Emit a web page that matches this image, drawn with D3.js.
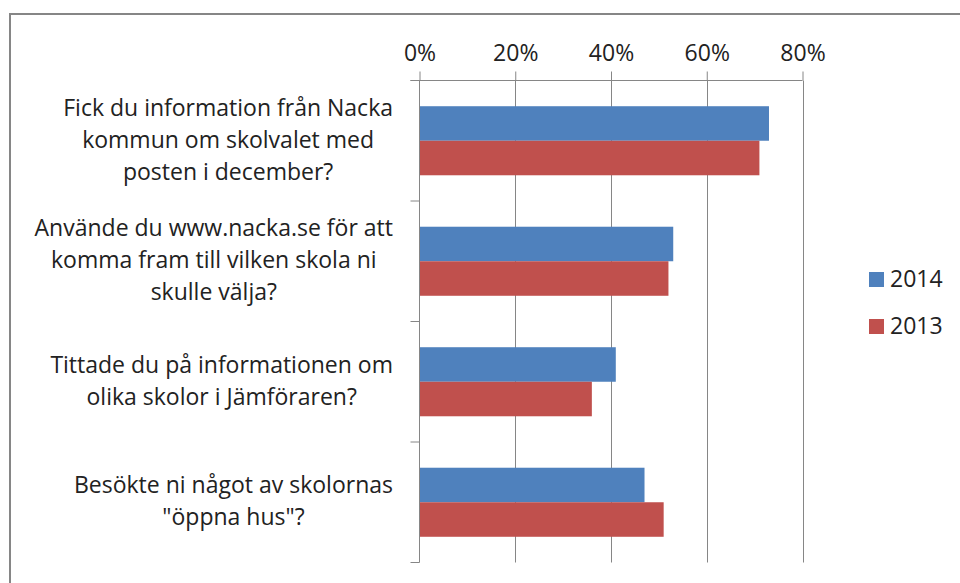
<!DOCTYPE html>
<html>
<head>
<meta charset="utf-8">
<script src="https://cdn.jsdelivr.net/npm/d3@7"></script>
<style>
  html, body { margin: 0; padding: 0; background: #fff; }
  svg { display: block; }
  text { font-family: "Open Sans", Lato, sans-serif; fill: #222; }
</style>
</head>
<body>
<svg id="chart" width="960" height="583"></svg>
<script>
// ---- data ----
const categories = [
  ["Fick du information från Nacka", "kommun om skolvalet med", "posten i december?"],
  ["Använde du www.nacka.se för att", "komma fram till vilken skola ni", "skulle välja?"],
  ["Tittade du på informationen om", "olika skolor i Jämföraren?"],
  ["Besökte ni något av skolornas", "\"öppna hus\"?"]
];
const seriesNames = ["2014", "2013"];
const values2014 = [0.73, 0.53, 0.41, 0.47];
const values2013 = [0.71, 0.52, 0.36, 0.51];
const tickValues = [0, 0.2, 0.4, 0.6, 0.8];
const colors = ["#4F81BD", "#C0504D"];

const svg = d3.select("#chart");
const axisColor = "#868686";
const fontSize = 23;
const fontFamily = "'Open Sans', Lato, sans-serif";

// outer border
svg.append("rect")
  .attr("x", 10).attr("y", 14)
  .attr("width", 1000).attr("height", 700)
  .attr("fill", "none").attr("stroke", axisColor).attr("stroke-width", 2);

const catIdx = categories.map((d, i) => i);
const x = d3.scaleLinear().domain([0, 0.8]).range([419.5, 802.5]);
const y0 = d3.scaleBand().domain(catIdx).range([80.5, 562.5]).padding(0);
const y1 = d3.scaleBand().domain(seriesNames).range([0, y0.bandwidth()])
  .paddingInner(0).paddingOuter(0.745);

const seriesValues = [values2014, values2013];

// gridlines
svg.append("g").selectAll("line").data(tickValues.slice(1)).join("line")
  .attr("x1", d => Math.round(x(d)) + 0.5).attr("x2", d => Math.round(x(d)) + 0.5)
  .attr("y1", y0.range()[0]).attr("y2", y0.range()[1])
  .attr("stroke", axisColor).attr("stroke-width", 1);

// bars
const g = svg.append("g");
catIdx.forEach(ci => {
  seriesNames.forEach((s, si) => {
    g.append("rect")
      .attr("x", x(0))
      .attr("y", y0(ci) + y1(s))
      .attr("width", x(seriesValues[si][ci]) - x(0))
      .attr("height", y1.bandwidth())
      .attr("fill", colors[si]);
  });
});

// top axis
const xAxis = d3.axisTop(x).tickValues(tickValues)
  .tickFormat(d3.format(".0%")).tickSizeInner(9).tickSizeOuter(0).tickPadding(11);
const xg = svg.append("g").attr("transform", `translate(0,${y0.range()[0]})`).call(xAxis);
xg.select(".domain").remove();
xg.selectAll(".tick line").attr("stroke", axisColor);
xg.selectAll(".tick text").attr("font-size", fontSize).attr("font-family", fontFamily).attr("fill", "#222");
// horizontal axis line (extended left to meet category tick)
svg.append("line")
  .attr("x1", x(0) - 9).attr("x2", x(0.8))
  .attr("y1", y0.range()[0]).attr("y2", y0.range()[0])
  .attr("stroke", axisColor);

// vertical category axis
svg.append("line")
  .attr("x1", x(0)).attr("x2", x(0))
  .attr("y1", y0.range()[0]).attr("y2", y0.range()[1])
  .attr("stroke", axisColor);
const bounds = catIdx.map(i => y0(i)).concat([y0.range()[1]]);
svg.append("g").selectAll("line").data(bounds).join("line")
  .attr("x1", x(0) - 9).attr("x2", x(0))
  .attr("y1", d => d).attr("y2", d => d)
  .attr("stroke", axisColor);

// category labels: block right-aligned, lines centered in block
const labelRight = 393;
const lineH = 32;
catIdx.forEach(ci => {
  const lines = categories[ci];
  const cy = y0(ci) + y0.bandwidth() / 2;
  const tg = svg.append("g");
  const texts = lines.map((ln, li) => tg.append("text")
    .attr("font-size", fontSize)
    .attr("text-anchor", "middle")
    .attr("y", cy + (li - (lines.length - 1) / 2) * lineH + 7)
    .text(ln));
  const maxW = d3.max(texts, t => t.node().getComputedTextLength());
  texts.forEach(t => t.attr("x", labelRight - maxW / 2));
});

// legend
const legend = svg.append("g");
seriesNames.forEach((s, si) => {
  const ly = 272 + si * 47;
  legend.append("rect").attr("x", 869).attr("y", ly).attr("width", 15).attr("height", 15)
    .attr("fill", colors[si]);
  legend.append("text").attr("x", 890).attr("y", ly + 15)
    .attr("font-size", fontSize).text(s);
});
</script>
</body>
</html>
